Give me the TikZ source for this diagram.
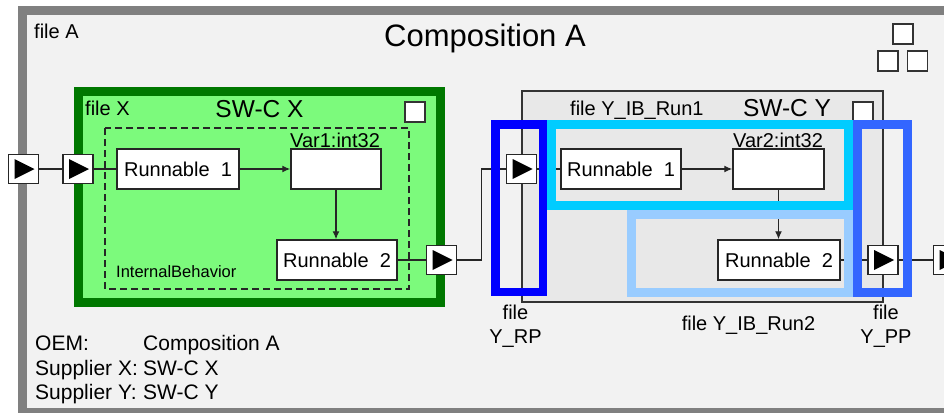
\documentclass[tikz,border=0pt]{standalone}
\usepackage{fontspec}
\setmainfont{Liberation Sans}
\usetikzlibrary{arrows.meta,calc}
\definecolor{framegray}{HTML}{808080}
\definecolor{bgA}{HTML}{F2F2F2}
\definecolor{bgY}{HTML}{E8E8E8}
\definecolor{dgreen}{HTML}{007800}
\definecolor{lgreen}{HTML}{7CFA7C}
\definecolor{cyanbox}{HTML}{00CCFF}
\definecolor{darkblue}{HTML}{0000FF}
\definecolor{ppblue}{HTML}{3366FF}
\definecolor{lightblue}{HTML}{99CCFF}
\begin{document}
\begin{tikzpicture}[x=1pt,y=-1pt,
  fs/.style={font=\fontsize{#1}{#1}\selectfont},
  lbl/.style={inner sep=0pt, fs=20},
  rbox/.style={draw=black!85, line width=1.5pt, fill=white, minimum height=40pt, inner sep=0pt, fs=20},
  port/.style={draw=black!85, line width=1.3pt, fill=white, minimum width=30pt, minimum height=29pt, inner sep=0pt,
    path picture={\fill[black] ([xshift=-9pt,yshift=10pt]path picture bounding box.center) -- ([xshift=-9pt,yshift=-10pt]path picture bounding box.center) -- ([xshift=11pt]path picture bounding box.center) -- cycle;}},
  sq/.style={draw=black!80, line width=1.3pt, fill=white, minimum size=20pt, inner sep=0pt},
  conn/.style={draw=black!85, line width=1.2pt},
  arr/.style={conn, -{Latex[length=8pt,width=7pt]}},
  hilite/.style={line width=9pt}
]
\clip (0,0) rectangle (944,412);
\fill[white] (0,0) rectangle (944,412);
% outer frame
\draw[framegray, line width=9pt, fill=bgA] (22.5,10.5) rectangle (955,412.5);
% SW-C X
\draw[dgreen, line width=9pt, fill=lgreen] (78.5,91.5) rectangle (440.5,302.5);
\draw[black!85, line width=1.2pt, dash pattern=on 7pt off 4pt] (105,128) rectangle (409,289);
% SW-C Y
\draw[black!80, line width=1.5pt, fill=bgY] (522,91) rectangle (883,302);

% labels
\node[lbl, anchor=base west] (fileA) at (34,38) {file A};
\node[lbl, fs=31, anchor=base] (compA) at (485,47) {Composition A};
\node[lbl, anchor=base west] (fileX) at (85,115) {file X};
\node[lbl, fs=24.5, anchor=base] (swcx) at (259.5,117) {SW-C X};
\node[lbl, anchor=base west] (var1l) at (290,147) {Var1:int32};
\node[lbl, fs=16.5, anchor=base west] (ib) at (116,277) {InternalBehavior};
\node[lbl, anchor=base west] (fileYa) at (570,115) {file Y\_IB\_Run1};
\node[lbl, fs=24.5, anchor=base] (swcy) at (787,116) {SW-C Y};
\node[lbl, anchor=base west] (var2l) at (733,147) {Var2:int32};
\node[lbl, anchor=base] (rpa) at (515.5,319) {file};
\node[lbl, anchor=base] (rpb) at (515.5,343) {Y\_RP};
\node[lbl, anchor=base] (fileYb) at (748.5,330) {file Y\_IB\_Run2};
\node[lbl, anchor=base] (ppa) at (886,319) {file};
\node[lbl, anchor=base] (ppb) at (886,343) {Y\_PP};
\node[lbl, fs=21, anchor=base west] (oem) at (35,350) {OEM:};
\node[lbl, fs=21, anchor=base west] (oemv) at (143,350) {Composition A};
\node[lbl, fs=21, anchor=base west] (supx) at (35,375) {Supplier X:};
\node[lbl, fs=21, anchor=base west] (supxv) at (143,375) {SW-C X};
\node[lbl, fs=21, anchor=base west] (supy) at (35,399) {Supplier Y:};
\node[lbl, fs=21, anchor=base west] (supyv) at (143,399) {SW-C Y};

% small squares
\node[sq] (sqx) at (415,112) {};
\node[sq] (sqy) at (863,112) {};
\node[sq] (sqa) at (903,34) {};
\node[sq] (sqb) at (888,61) {};
\node[sq] (sqc) at (917.5,61) {};

% runnables and variables
\node[rbox, minimum width=122pt] (rx1) at (178,169) {Runnable\ \ 1};
\node[rbox, minimum width=90pt] (var1) at (336,169) {};
\node[rbox, minimum width=120pt] (rx2) at (337,260) {Runnable\ \ 2};
\node[rbox, minimum width=120pt] (ry1) at (621,169) {Runnable\ \ 1};
\node[rbox, minimum width=91pt] (var2) at (778.5,169) {};
\node[rbox, minimum width=122pt] (ry2) at (779,260) {Runnable\ \ 2};

% ports
\node[port] (p1) at (23.5,169) {};
\node[port] (p2) at (78,169) {};
\node[port] (px) at (441.5,260) {};
\node[port] (pyr) at (521.5,169) {};
\node[port] (pyp) at (883,260) {};
\node[port] (pout) at (948.5,260) {};

% connectors
\draw[conn] (p1.east) -- (p2.west);
\draw[conn] (p2.east) -- (rx1.west);
\draw[arr] (rx1.east) -- (var1.west);
\draw[arr] (var1.south) -- (var1.south |- rx2.north);
\draw[conn] (rx2.east) -- (px.west);
\draw[conn] (px.east) -| ($(px.east)!.5!(pyr.west)$) |- (pyr.west);
\draw[conn] (pyr.east) -- (ry1.west);
\draw[arr] (ry1.east) -- (var2.west);
\draw[arr] (var2.south) -- (var2.south |- ry2.north);
\draw[conn] (ry2.east) -- (pyp.west);
\draw[conn] (pyp.east) -- (pout.west);

% highlight overlays
\draw[cyanbox, hilite] (551.5,124.5) rectangle (848.5,205.5);
\draw[lightblue, hilite] (631.5,214.5) rectangle (848.5,292.5);
\draw[darkblue, line width=8.5pt] (495.25,124.25) rectangle (542.75,291.75);
\draw[ppblue, hilite] (857.5,124.5) rectangle (907.5,292.5);
\end{tikzpicture}
\end{document}
